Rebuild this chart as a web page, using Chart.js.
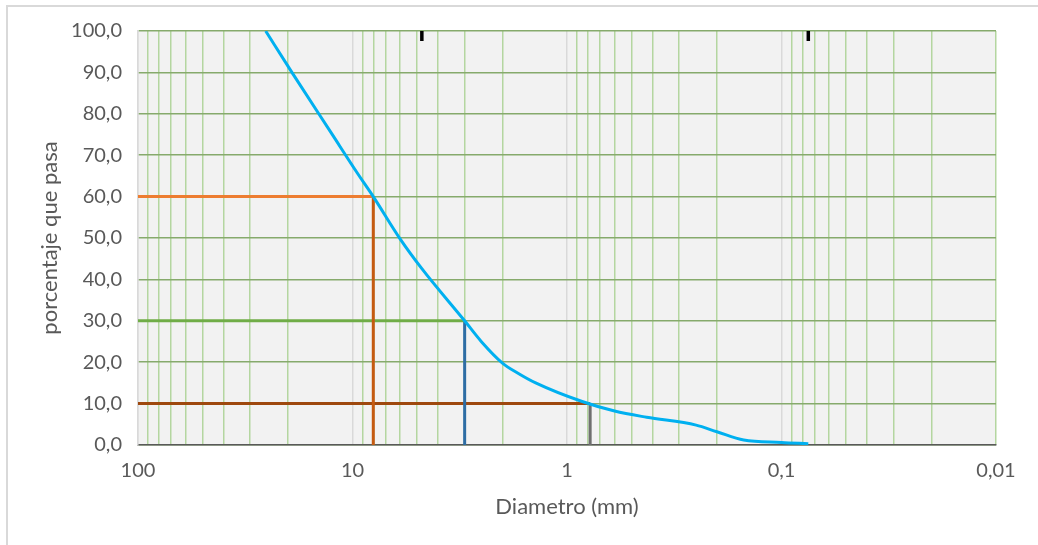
<!DOCTYPE html>
<html>
<head>
<meta charset="utf-8">
<script src="https://cdn.jsdelivr.net/npm/chart.js@4.4.1/dist/chart.umd.min.js"></script>
<style>
  body { margin: 0; background: #fff; }
  #wrap { position: relative; width: 1038px; height: 545px; overflow: hidden; }
  #frame { position: absolute; left: 6px; top: 5px; width: 1100px; height: 600px;
           border-left: 2px solid #d9d9d9; border-top: 2px solid #d9d9d9; }
  canvas { position: absolute; left: 0; top: 0; }
</style>
</head>
<body>
<div id="wrap">
  <div id="frame"></div>
  <canvas id="granulometria" width="1038" height="545"></canvas>
</div>
<script>
// ========== datos de la curva granulometrica ==========
const diametros = [25.4, 19, 12.5, 9.5, 8, 6, 4.75, 3, 2.5, 2, 1.7, 1.4, 0.85, 0.6, 0.425, 0.25, 0.2, 0.15, 0.1, 0.075]
const porcentajePasa = [100, 89.7, 75.2, 65.7, 60, 49.8, 42.6, 30, 24.9, 19.8, 17.4, 15, 10.5, 8.2, 6.7, 4.8, 3.2, 1.2, 0.6, 0.3]

// D60, D30, D10
const dValores = [8.0, 3.0, 0.78]
const dPorcentajes = [60, 30, 10]

// marcas negras arriba (tamiz #4 y #200)
const marcasTamiz = [4.75, 0.075]
const marcaAlto = [100, 97.6]

// ejes
const xDecadas = [100, 10, 1, 0.1, 0.01]
const xEtiquetas = ['100', '10', '1', '0,1', '0,01']
const yTicks = [0, 10, 20, 30, 40, 50, 60, 70, 80, 90, 100]

const textColor = '#595959'
const fuenteTicks = { family: 'Lato', size: 20 }
const fuenteTitulo = { family: 'Lato', size: 22 }

// todos los ticks del eje log (1..9 por decada)
const xTicksTodos = []
for (let i = 0; i < xDecadas.length; i++) {
    const base = xDecadas[i]
    xTicksTodos.push(base)
    if (i < xDecadas.length - 1) {
        for (let m = 9; m >= 2; m--) xTicksTodos.push(+(base / 10 * m).toPrecision(3))
    }
}

const curva = diametros.map((d, i) => ({ x: d, y: porcentajePasa[i] }))

const coloresH = ['#ed7d31', '#70ad47', '#9e480e']
const coloresV = ['#c55a11', '#2e6da4', '#6f6f6f']

const lineasD = []
for (let i = 0; i < dValores.length; i++) {
    lineasD.push({
        data: [{ x: 100, y: dPorcentajes[i] }, { x: dValores[i], y: dPorcentajes[i] }],
        borderColor: coloresH[i], borderWidth: 3, pointRadius: 0, order: 2
    })
    lineasD.push({
        data: [{ x: dValores[i], y: dPorcentajes[i] }, { x: dValores[i], y: 0 }],
        borderColor: coloresV[i], borderWidth: 3, pointRadius: 0, order: 2
    })
}

const marcas = marcasTamiz.map(d => ({
    data: [{ x: d, y: marcaAlto[0] }, { x: d, y: marcaAlto[1] }],
    borderColor: '#000', borderWidth: 3.5, pointRadius: 0, order: 0
}))

// fondo gris del area de trazado
const fondoPlot = {
    id: 'fondoPlot',
    beforeDraw(chart) {
        const { ctx, chartArea: a } = chart
        ctx.save()
        ctx.fillStyle = '#f2f2f2'
        ctx.fillRect(a.left, a.top, a.right - a.left, a.bottom - a.top)
        ctx.restore()
    }
}

const ctx = document.getElementById('granulometria').getContext('2d')
new Chart(ctx, {
    type: 'line',
    data: {
        datasets: [
            {
                data: curva,
                borderColor: '#00b0f0', borderWidth: 3, pointRadius: 0,
                cubicInterpolationMode: 'monotone', order: 1
            },
            ...lineasD,
            ...marcas
        ]
    },
    options: {
        responsive: false,
        animation: false,
        layout: { padding: { left: 0, top: 31, right: 42, bottom: 0 } },
        plugins: { legend: { display: false }, tooltip: { enabled: false } },
        scales: {
            x: {
                type: 'logarithmic',
                reverse: true,
                min: 0.01, max: 100,
                afterFit(scale) { scale.height = 100 },
                afterBuildTicks(scale) {
                    scale.ticks = xTicksTodos.map(v => ({ value: v, major: xDecadas.includes(v) }))
                },
                ticks: {
                    autoSkip: false, maxRotation: 0, padding: 14,
                    color: textColor, font: fuenteTicks,
                    callback(value) {
                        const idx = xDecadas.indexOf(value)
                        return idx >= 0 ? xEtiquetas[idx] : ''
                    }
                },
                grid: {
                    drawTicks: false,
                    lineWidth: 1.5,
                    color(c) {
                        const v = c.tick ? c.tick.value : null
                        if (v !== null && v !== 0.01 && xDecadas.includes(v)) return '#d9d9d9'
                        return '#b4d6a0'
                    }
                },
                border: { color: textColor, width: 1.5 },
                title: {
                    display: true, text: 'Diametro (mm)', color: textColor, font: fuenteTitulo,
                    padding: { top: 0, bottom: 25 }
                }
            },
            y: {
                min: 0, max: 100,
                afterFit(scale) { scale.width = 138 },
                afterBuildTicks(scale) {
                    scale.ticks = yTicks.map(v => ({ value: v }))
                },
                ticks: {
                    padding: 16, color: textColor, font: fuenteTicks,
                    callback: v => v.toFixed(1).replace('.', ',')
                },
                grid: { drawTicks: false, color: '#86aa6c', lineWidth: 1.5 },
                border: { color: '#d9d9d9', width: 1.5 },
                title: {
                    display: true, text: 'porcentaje que pasa', color: textColor, font: fuenteTitulo,
                    padding: { top: 37, bottom: 0 }
                }
            }
        }
    },
    plugins: [fondoPlot]
})
</script>
</body>
</html>
